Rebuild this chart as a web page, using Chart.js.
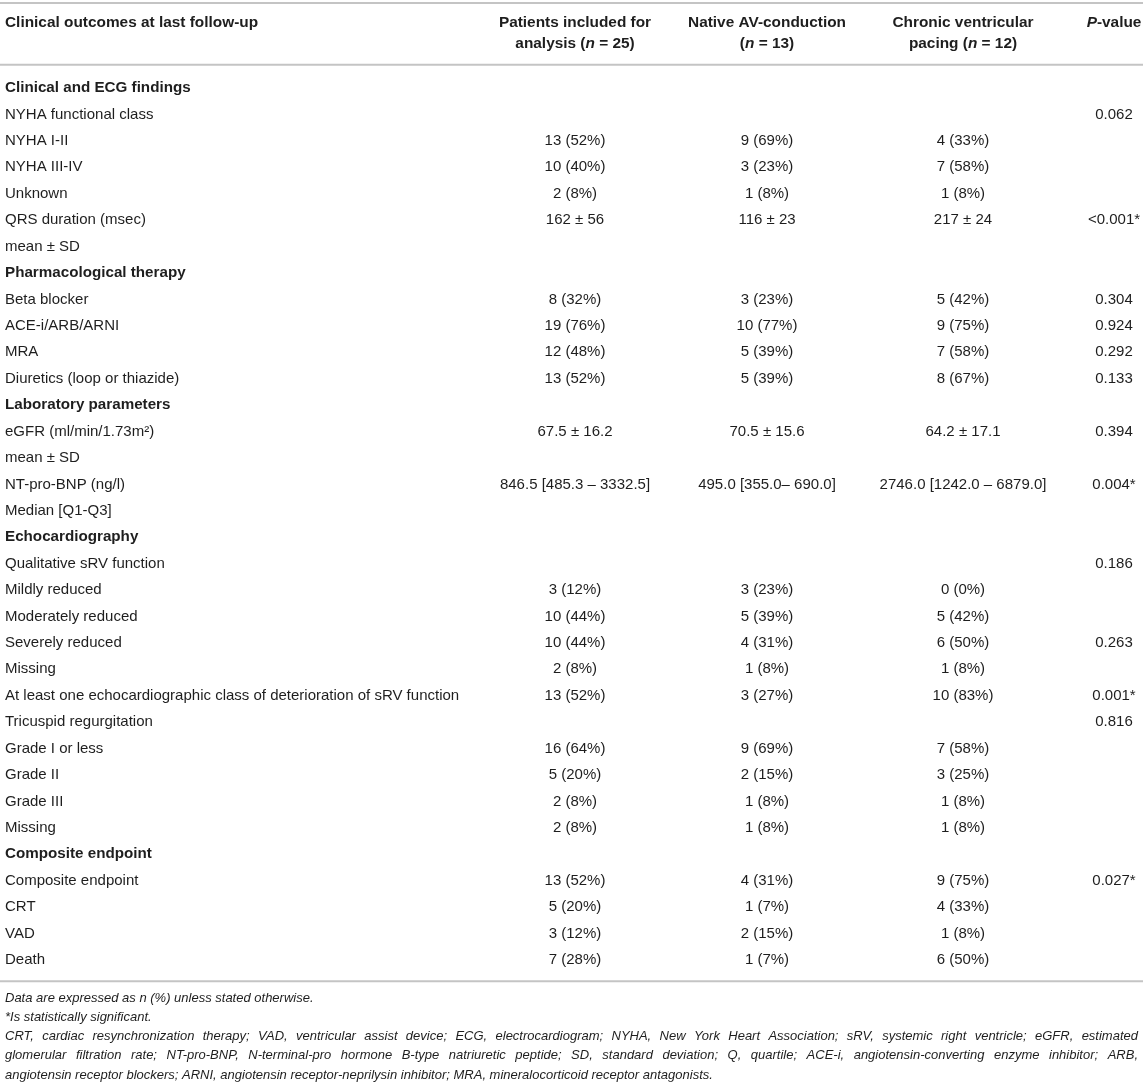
<!DOCTYPE html>
<html>
<head>
<meta charset="utf-8">
<title>Clinical outcomes at last follow-up</title>
<script src="https://cdn.jsdelivr.net/npm/chart.js@4.4.0/dist/chart.umd.min.js"></script>
<style>
  html, body { margin: 0; padding: 0; background: #fff; }
  #wrap { width: 1143px; height: 1089px; position: relative; }
</style>
</head>
<body>
<div id="wrap"><canvas id="outcomeTable"></canvas></div>
<script>
// table content, one entry per row
const rowLabels = [
  'Clinical and ECG findings', 'NYHA functional class', 'NYHA I-II', 'NYHA III-IV', 'Unknown',
  'QRS duration (msec)', 'mean ± SD',
  'Pharmacological therapy', 'Beta blocker', 'ACE-i/ARB/ARNI', 'MRA', 'Diuretics (loop or thiazide)',
  'Laboratory parameters', 'eGFR (ml/min/1.73m²)', 'mean ± SD', 'NT-pro-BNP (ng/l)', 'Median [Q1-Q3]',
  'Echocardiography', 'Qualitative sRV function', 'Mildly reduced', 'Moderately reduced', 'Severely reduced',
  'Missing', 'At least one echocardiographic class of deterioration of sRV function',
  'Tricuspid regurgitation', 'Grade I or less', 'Grade II', 'Grade III', 'Missing',
  'Composite endpoint', 'Composite endpoint', 'CRT', 'VAD', 'Death'
];
const sectionRows = [0, 7, 12, 17, 29];

const allPatients = [
  '', '', '13 (52%)', '10 (40%)', '2 (8%)', '162 ± 56', '',
  '', '8 (32%)', '19 (76%)', '12 (48%)', '13 (52%)',
  '', '67.5 ± 16.2', '', '846.5 [485.3 – 3332.5]', '',
  '', '', '3 (12%)', '10 (44%)', '10 (44%)', '2 (8%)', '13 (52%)',
  '', '16 (64%)', '5 (20%)', '2 (8%)', '2 (8%)',
  '', '13 (52%)', '5 (20%)', '3 (12%)', '7 (28%)'
];
const nativeAV = [
  '', '', '9 (69%)', '3 (23%)', '1 (8%)', '116 ± 23', '',
  '', '3 (23%)', '10 (77%)', '5 (39%)', '5 (39%)',
  '', '70.5 ± 15.6', '', '495.0 [355.0– 690.0]', '',
  '', '', '3 (23%)', '5 (39%)', '4 (31%)', '1 (8%)', '3 (27%)',
  '', '9 (69%)', '2 (15%)', '1 (8%)', '1 (8%)',
  '', '4 (31%)', '1 (7%)', '2 (15%)', '1 (7%)'
];
const ventricularPacing = [
  '', '', '4 (33%)', '7 (58%)', '1 (8%)', '217 ± 24', '',
  '', '5 (42%)', '9 (75%)', '7 (58%)', '8 (67%)',
  '', '64.2 ± 17.1', '', '2746.0 [1242.0 – 6879.0]', '',
  '', '', '0 (0%)', '5 (42%)', '6 (50%)', '1 (8%)', '10 (83%)',
  '', '7 (58%)', '3 (25%)', '1 (8%)', '1 (8%)',
  '', '9 (75%)', '4 (33%)', '1 (8%)', '6 (50%)'
];
const pValues = [
  '', '0.062', '', '', '', '<0.001*', '',
  '', '0.304', '0.924', '0.292', '0.133',
  '', '0.394', '', '0.004*', '',
  '', '0.186', '', '', '0.263', '', '0.001*',
  '0.816', '', '', '', '',
  '', '0.027*', '', '', ''
];

// header lines, *...* is italic
const headerLines = [
  ['Clinical outcomes at last follow-up'],
  ['Patients included for', 'analysis (*n* = 25)'],
  ['Native AV-conduction', '(*n* = 13)'],
  ['Chronic ventricular', 'pacing (*n* = 12)'],
  ['*P*-value']
];

const footnotes = [
  'Data are expressed as n (%) unless stated otherwise.',
  '*Is statistically significant.',
  'CRT, cardiac resynchronization therapy; VAD, ventricular assist device; ECG, electrocardiogram; NYHA, New York Heart Association; sRV, systemic right ventricle; eGFR, estimated',
  'glomerular filtration rate; NT-pro-BNP, N-terminal-pro hormone B-type natriuretic peptide; SD, standard deviation; Q, quartile; ACE-i, angiotensin-converting enzyme inhibitor; ARB,',
  'angiotensin receptor blockers; ARNI, angiotensin receptor-neprilysin inhibitor; MRA, mineralocorticoid receptor antagonists.'
];

const columns = [rowLabels, allPatients, nativeAV, ventricularPacing, pValues];
const colX = [5, 575, 767, 963, 1114];
const colAlign = ['left', 'center', 'center', 'center', 'center'];

const FAMILY = '"Liberation Sans", Arial, Helvetica, sans-serif';
const TEXT = '#1e1e1e';
const RULE = '#c4c4c4';

function splitRuns(str) {
  const parts = str.split('*');
  return parts.map((t, i) => ({ t: t, i: i % 2 === 1 })).filter(r => r.t.length);
}

function drawRuns(ctx, runs, x, y, align, size, bold) {
  const fonts = runs.map(r => (r.i ? 'italic ' : '') + (bold ? 'bold ' : '') + size + 'px ' + FAMILY);
  let total = 0;
  const widths = runs.map((r, k) => { ctx.font = fonts[k]; const w = ctx.measureText(r.t).width; total += w; return w; });
  let cx = align === 'center' ? x - total / 2 : (align === 'right' ? x - total : x);
  ctx.textAlign = 'left';
  ctx.textBaseline = 'middle';
  runs.forEach((r, k) => { ctx.font = fonts[k]; ctx.fillText(r.t, cx, y); cx += widths[k]; });
}

function rule(ctx, y, x0, x1) {
  ctx.save();
  ctx.strokeStyle = RULE;
  ctx.lineWidth = 2;
  ctx.beginPath();
  ctx.moveTo(x0, y);
  ctx.lineTo(x1, y);
  ctx.stroke();
  ctx.restore();
}

const tableText = {
  id: 'tableText',
  afterDatasetsDraw(chart) {
    const ctx = chart.ctx;
    const area = chart.chartArea;
    const xs = chart.scales.x;
    ctx.save();
    ctx.fillStyle = TEXT;

    // rules
    rule(ctx, 3, 0, chart.width);
    rule(ctx, area.top - 10, 0, chart.width);
    rule(ctx, area.bottom + 8, 0, chart.width);

    // header
    headerLines.forEach((lines, c) => {
      lines.forEach((line, k) => {
        drawRuns(ctx, splitRuns(line), xs.getPixelForValue(colX[c]), 23 + k * 21, colAlign[c], 15.4, true);
      });
    });

    // cells, placed at the points of each column dataset
    chart.data.datasets.forEach((ds, c) => {
      const meta = chart.getDatasetMeta(c);
      meta.data.forEach((pt, i) => {
        const txt = columns[c][i];
        if (!txt) return;
        const bold = c === 0 && sectionRows.includes(i);
        drawRuns(ctx, [{ t: txt, i: false }], pt.x, pt.y, colAlign[c], bold ? 15.2 : 15, bold);
      });
    });

    // footnotes
    const fSize = 13;
    const left = 5, right = chart.width - 5;
    ctx.font = 'italic ' + fSize + 'px ' + FAMILY;
    ctx.textBaseline = 'middle';
    ctx.textAlign = 'left';
    footnotes.forEach((line, k) => {
      const y = area.bottom + 25 + k * 19.2;
      const justify = k === 2 || k === 3;
      if (!justify) {
        ctx.fillText(line, left, y);
        return;
      }
      const words = line.split(' ');
      const wordW = words.map(w => ctx.measureText(w).width);
      const sum = wordW.reduce((a, b) => a + b, 0);
      const gap = (right - left - sum) / (words.length - 1);
      let cx = left;
      words.forEach((w, j) => { ctx.fillText(w, cx, y); cx += wordW[j] + gap; });
    });
    ctx.restore();
  }
};

const datasets = columns.map((col, c) => ({
  label: 'col' + c,
  data: col.map((v, i) => ({ x: colX[c], y: i })),
  pointRadius: 0,
  showLine: false
}));

new Chart(document.getElementById('outcomeTable'), {
  type: 'scatter',
  data: { datasets: datasets },
  options: {
    responsive: true,
    maintainAspectRatio: false,
    animation: false,
    events: [],
    layout: { padding: { top: 74.8, bottom: 1089 - 973.2, left: 0, right: 0 } },
    plugins: { legend: { display: false }, tooltip: { enabled: false } },
    scales: {
      x: { type: 'linear', min: 0, max: 1143, display: false },
      y: { type: 'linear', min: -0.5, max: rowLabels.length - 0.5, reverse: true, display: false }
    }
  },
  plugins: [tableText]
});
</script>
</body>
</html>
